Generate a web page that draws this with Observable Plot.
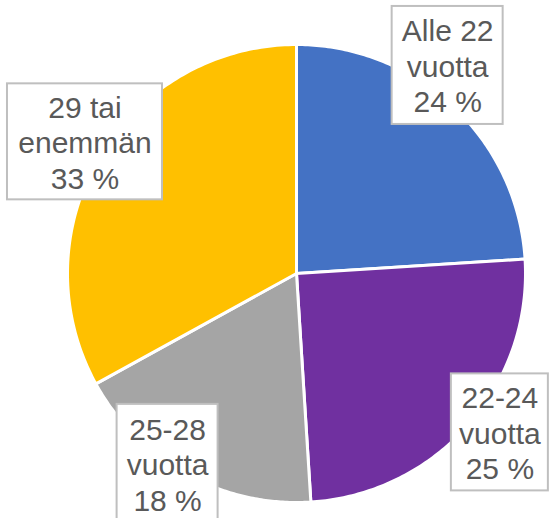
<!DOCTYPE html>
<html><head><meta charset="utf-8">
<script src="https://cdn.jsdelivr.net/npm/d3@7"></script>
<script src="https://cdn.jsdelivr.net/npm/@observablehq/plot@0.6"></script>
<style>body{margin:0;background:#fff;overflow:hidden}</style>
</head><body><div id="chart"></div>
<script>
// ---- data ----
const categories = ["Alle 22 vuotta", "22-24 vuotta", "25-28 vuotta", "29 tai enemmän"];
const labelNames = ["Alle 22\nvuotta", "22-24\nvuotta", "25-28\nvuotta", "29 tai\nenemmän"];
const shares = [24, 25, 18, 33];
const colors = ["#4472C4", "#7030A0", "#A5A5A5", "#FFC000"];

// ---- layout (not data) ----
const W = 549, H = 518, cx = 296, cy = 273, R = 229;
// label box: radial distance (in radii), angle (deg clockwise from top), box size px
const labelLayout = [
  {r: 1.123, a: 36, w: 111, h: 118},
  {r: 1.127, a: 128, w: 97, h: 117},
  {r: 1.004, a: 214.1, w: 101, h: 119},
  {r: 1.088, a: 301.9, w: 155, h: 116}
];

const pie = d3.pie().sort(null).value(d => d.share).startAngle(0)(
  categories.map((c, i) => ({category: c, share: shares[i]}))
);

const slicePts = [];
pie.forEach(p => {
  const cat = p.data.category;
  slicePts.push({category: cat, x: 0, y: 0});
  const n = 120;
  for (let k = 0; k <= n; k++) {
    const a = p.startAngle + (p.endAngle - p.startAngle) * k / n;
    slicePts.push({category: cat, x: Math.sin(a), y: Math.cos(a)});
  }
  slicePts.push({category: cat, x: 0, y: 0});
});

const labels = categories.map((c, i) => {
  const L = labelLayout[i];
  const a = L.a * Math.PI / 180;
  const x = L.r * Math.sin(a), y = L.r * Math.cos(a);
  return {
    category: c,
    text: labelNames[i] + "\n" + shares[i] + " %",
    x, y,
    x1: x - L.w / 2 / R, x2: x + L.w / 2 / R,
    y1: y - L.h / 2 / R, y2: y + L.h / 2 / R
  };
});

const chart = Plot.plot({
  width: W, height: H,
  marginTop: 0, marginRight: 0, marginBottom: 0, marginLeft: 0,
  x: {domain: [-1, 1], range: [cx - R, cx + R], axis: null},
  y: {domain: [-1, 1], range: [cy + R, cy - R], axis: null},
  color: {domain: categories, range: colors},
  style: {background: "#fff"},
  marks: [
    Plot.line(slicePts, {x: "x", y: "y", z: "category", fill: "category",
      stroke: "#fff", strokeWidth: 3, strokeLinejoin: "round", curve: "linear"}),
    Plot.rect(labels, {x1: "x1", x2: "x2", y1: "y1", y2: "y2",
      fill: "#fff", stroke: "#BFBFBF", strokeWidth: 2}),
    Plot.text(labels, {x: "x", y: "y", text: "text", fontSize: 30,
      lineHeight: 1.18, fill: "#595959", fontFamily: "Liberation Sans, Arial, sans-serif",
      textAnchor: "middle", lineAnchor: "middle"})
  ]
});
document.getElementById("chart").appendChild(chart);
</script>
</body></html>
